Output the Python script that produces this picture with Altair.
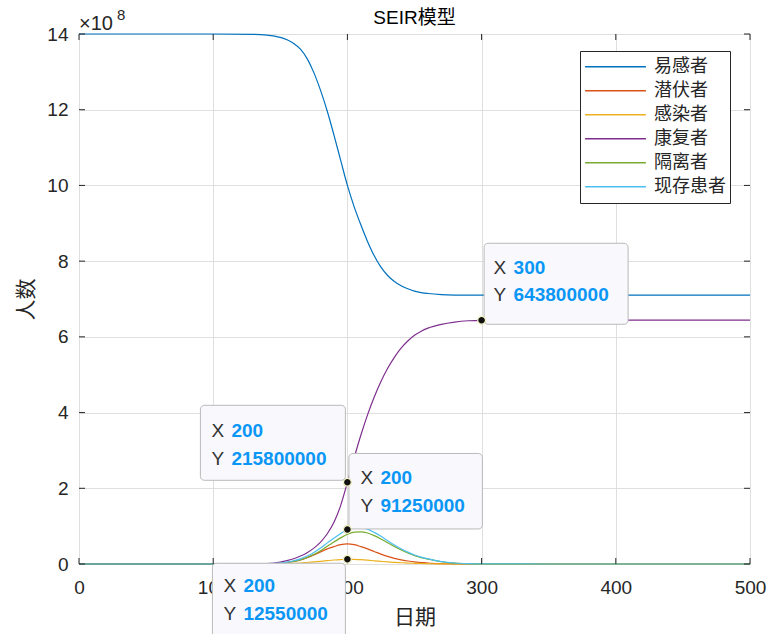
import altair as alt
import pandas as pd

# ---------------- data (values in units of 1e8 people) ----------------
days = [0, 50, 100, 130, 140, 150, 155, 160, 165, 170, 175, 180, 185, 190, 195,
        200, 205, 210, 215, 220, 225, 230, 235, 240, 245, 250, 255, 260, 270,
        280, 290, 300, 350, 400, 450, 500]

susceptible = [14.0, 14.0, 14.0, 13.99, 13.97, 13.91, 13.85, 13.75, 13.6, 13.35,
               12.98, 12.51, 11.96, 11.33, 10.66, 10.0, 9.44, 8.96, 8.52, 8.14,
               7.84, 7.62, 7.46, 7.35, 7.27, 7.21, 7.17, 7.145, 7.115, 7.103, 7.1,
               7.1, 7.1, 7.1, 7.1, 7.1]
exposed = [0, 0, 0, 0, 0.003, 0.02, 0.04, 0.07, 0.11, 0.17, 0.24, 0.32, 0.4, 0.46,
           0.51, 0.53, 0.51, 0.46, 0.4, 0.33, 0.26, 0.2, 0.15, 0.11, 0.08, 0.055,
           0.04, 0.025, 0.01, 0.004, 0.001, 0, 0, 0, 0, 0]
infected = [0, 0, 0, 0, 0.001, 0.005, 0.008, 0.015, 0.025, 0.04, 0.055, 0.07, 0.088,
            0.105, 0.118, 0.1255, 0.122, 0.113, 0.1, 0.085, 0.07, 0.055, 0.043,
            0.033, 0.025, 0.018, 0.013, 0.009, 0.004, 0.002, 0.001, 0, 0, 0, 0, 0]
recovered = [0, 0, 0, 0, 0.01, 0.05, 0.09, 0.14, 0.21, 0.3, 0.42, 0.58, 0.8, 1.1,
             1.55, 2.158, 2.8, 3.4, 3.94, 4.41, 4.82, 5.17, 5.46, 5.7, 5.89, 6.04,
             6.15, 6.23, 6.33, 6.39, 6.425, 6.438, 6.44, 6.44, 6.44, 6.44]
quarantined = [0, 0, 0, 0, 0.003, 0.02, 0.04, 0.07, 0.11, 0.17, 0.25, 0.35, 0.47,
               0.58, 0.69, 0.785, 0.84, 0.85, 0.82, 0.75, 0.66, 0.56, 0.46, 0.37,
               0.29, 0.22, 0.17, 0.13, 0.06, 0.025, 0.01, 0.004, 0, 0, 0, 0]
current = [0, 0, 0, 0, 0.004, 0.025, 0.048, 0.085, 0.135, 0.21, 0.305, 0.42, 0.558,
           0.685, 0.808, 0.9125, 0.962, 0.963, 0.92, 0.835, 0.73, 0.615, 0.503,
           0.403, 0.315, 0.238, 0.183, 0.139, 0.064, 0.027, 0.011, 0.004, 0, 0, 0, 0]

names = ["易感者", "潜伏者", "感染者", "康复者", "隔离者", "现存患者"]
colors = ["#0072BD", "#D95319", "#EDB120", "#7E2F8E", "#77AC30", "#4DBEEE"]
series = [susceptible, exposed, infected, recovered, quarantined, current]

x_ticks = [0, 100, 200, 300, 400, 500]
y_ticks = [0, 2e8, 4e8, 6e8, 8e8, 10e8, 12e8, 14e8]

tip_x = [200, 200, 200, 300]
tip_y = [215800000, 91250000, 12550000, 643800000]

title_text = "SEIR模型"

# ---------------- tables ----------------
rows = []
for k, (nm, vals) in enumerate(zip(names, series)):
    for d, v in zip(days, vals):
        rows.append({"day": d, "value": v * 1e8, "series": nm, "k": k})
df = pd.DataFrame(rows)

xt_df = pd.DataFrame({"day": x_ticks})
yt_df = pd.DataFrame({"value": y_ticks})

CJK = "Noto Sans CJK SC"
LAT = "Liberation Sans"
AX = "#262626"

x_enc = alt.X("day:Q", scale=alt.Scale(domain=[0, 500], nice=False, zero=False),
              axis=alt.Axis(values=x_ticks, title="日期", titleFont=CJK, titleFontSize=21,
                            titleFontWeight="normal", titleColor=AX, labelFont=LAT,
                            labelFontSize=19, labelColor=AX, ticks=False, domain=False,
                            grid=True, gridColor="#dfdfdf", labelPadding=14,
                            titlePadding=9, labelFlush=False))
y_enc = alt.Y("value:Q", scale=alt.Scale(domain=[0, 1.4e9], nice=False),
              axis=alt.Axis(values=y_ticks, labelExpr="datum.value / 1e8", title="人数",
                            titleFont=CJK, titleFontSize=21, titleFontWeight="normal",
                            titleColor=AX, labelFont=LAT, labelFontSize=19, labelColor=AX,
                            ticks=False, domain=False, grid=True, gridColor="#dfdfdf",
                            labelPadding=11, titlePadding=10, labelFlush=False))

lines = alt.Chart(df).mark_line(strokeWidth=1.2, interpolate="monotone").encode(
    x=x_enc, y=y_enc,
    color=alt.Color("series:N", scale=alt.Scale(domain=names, range=colors),
                    legend=alt.Legend(title=None, orient="none", legendX=501, legendY=17,
                                      symbolType="stroke", symbolSize=3700,
                                      symbolStrokeWidth=1.5, labelFont=CJK,
                                      labelFontSize=18, labelColor=AX, strokeColor=AX,
                                      fillColor="white", padding=4, rowPadding=0,
                                      clipHeight=23.5, labelOffset=7)),
    detail="k:O",
)

# inward tick marks (MATLAB style)
tb = alt.Chart(xt_df).mark_rule(color=AX, strokeWidth=1).encode(
    x="day:Q", y=alt.value(530), y2=alt.value(524))
tt = alt.Chart(xt_df).mark_rule(color=AX, strokeWidth=1).encode(
    x="day:Q", y=alt.value(0), y2=alt.value(6))
tl = alt.Chart(yt_df).mark_rule(color=AX, strokeWidth=1).encode(
    y="value:Q", x=alt.value(0), x2=alt.value(6))
tr = alt.Chart(yt_df).mark_rule(color=AX, strokeWidth=1).encode(
    y="value:Q", x=alt.value(671), x2=alt.value(665))

# title and x10^8 exponent label
dummy = pd.DataFrame({"a": [0]})
ttl = alt.Chart(dummy).mark_text(align="center", baseline="middle",
                                 font=LAT + ", " + CJK, fontSize=19,
                                 color="#000000").encode(
    x=alt.value(335.5), y=alt.value(-16), text=alt.value(title_text))
exp1 = alt.Chart(dummy).mark_text(align="left", baseline="middle", font=LAT, fontSize=20,
                                  color=AX).encode(x=alt.value(0), y=alt.value(-10),
                                                   text=alt.value("×10"))
exp2 = alt.Chart(dummy).mark_text(align="left", baseline="middle", font=LAT, fontSize=15,
                                  color=AX).encode(x=alt.value(38), y=alt.value(-19),
                                                   text=alt.value("8"))

# data tips: box offsets (left, right, top, bottom) and text offsets relative to the point
box_off = [(-147, -2, -77, -2), (1.5, 135, -76, -0.5), (-135, -2, 4, 84), (2.5, 146.5, -77, 4)]
txt_off = [(-136, -116, -51, -23), (13, 33, -51, -23), (-124, -104, 27, 55), (12, 32, -52, -25)]

tip_layers = []
for i in range(len(tip_x)):
    tdf = pd.DataFrame({"day": [tip_x[i]], "value": [tip_y[i]],
                        "xs": [str(tip_x[i])], "ys": [str(tip_y[i])]})
    l, r, t, b = box_off[i]
    dxl, dxv, dy1, dy2 = txt_off[i]
    box = alt.Chart(tdf).mark_rect(fill="#f9f9fd", stroke="#b9b9b9", strokeWidth=1,
                                   cornerRadius=4, xOffset=l, x2Offset=r, yOffset=t,
                                   y2Offset=b).encode(
        x="day:Q", x2="day", y="value:Q", y2="value")
    common = dict(align="left", baseline="middle", font=LAT, fontSize=19)
    lx = alt.Chart(tdf).mark_text(dx=dxl, dy=dy1, color="#333333", **common).encode(
        x="day:Q", y="value:Q", text=alt.value("X"))
    vx = alt.Chart(tdf).mark_text(dx=dxv, dy=dy1, color="#0a96f5", fontWeight="bold",
                                  **common).encode(
        x="day:Q", y="value:Q", text="xs:N")
    ly = alt.Chart(tdf).mark_text(dx=dxl, dy=dy2, color="#333333", **common).encode(
        x="day:Q", y="value:Q", text=alt.value("Y"))
    vy = alt.Chart(tdf).mark_text(dx=dxv, dy=dy2, color="#0a96f5", fontWeight="bold",
                                  **common).encode(
        x="day:Q", y="value:Q", text="ys:N")
    tip_layers += [box, lx, vx, ly, vy]

tips_df = pd.DataFrame({"day": tip_x, "value": tip_y})
dots = alt.Chart(tips_df).mark_circle(size=60, color="#111111", stroke="#f4f4c4",
                                      strokeWidth=1.2, opacity=1).encode(
    x="day:Q", y="value:Q")

chart = alt.layer(lines, tb, tt, tl, tr, ttl, exp1, exp2, *tip_layers, dots).properties(
    width=671, height=530,
    padding={"left": 79, "top": 34, "right": 18, "bottom": 70},
    autosize=alt.AutoSizeParams(type="none"),
).configure_view(stroke="#555555", strokeWidth=1).configure(background="white")

chart.save("out.html", embed_options={"renderer": "svg", "actions": False})
